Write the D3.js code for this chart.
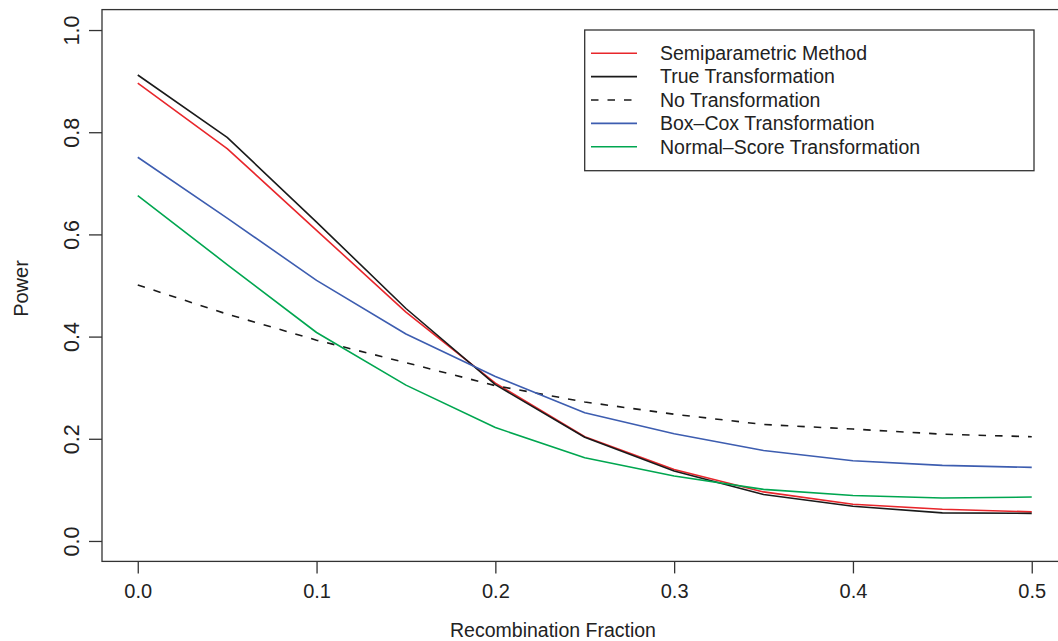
<!DOCTYPE html>
<html>
<head>
<meta charset="utf-8">
<script src="https://cdn.jsdelivr.net/npm/d3@7"></script>
<style>
  html, body { margin: 0; padding: 0; background: #fff; }
  svg { display: block; font-family: "Liberation Sans", Arial, Helvetica, sans-serif; }
</style>
</head>
<body>
<svg id="chart" width="1058" height="641"></svg>
<script>
// ---- data ----
const recomb = [0, 0.05, 0.1, 0.15, 0.2, 0.25, 0.3, 0.35, 0.4, 0.45, 0.5];
const semiparametric = [0.896, 0.768, 0.608, 0.448, 0.309, 0.204, 0.140, 0.096, 0.072, 0.062, 0.057];
const trueTransform  = [0.912, 0.790, 0.624, 0.455, 0.306, 0.203, 0.137, 0.091, 0.068, 0.055, 0.054];
const noTransform    = [0.501, 0.444, 0.393, 0.349, 0.304, 0.272, 0.248, 0.228, 0.219, 0.209, 0.204];
const boxCox         = [0.751, 0.632, 0.510, 0.405, 0.322, 0.251, 0.210, 0.177, 0.157, 0.148, 0.144];
const normalScore    = [0.676, 0.541, 0.408, 0.305, 0.222, 0.163, 0.127, 0.101, 0.089, 0.084, 0.086];
const seriesNames = ["Semiparametric Method", "True Transformation", "No Transformation",
                     "Box\u2013Cox Transformation", "Normal\u2013Score Transformation"];
const xTicks = [0, 0.1, 0.2, 0.3, 0.4, 0.5];
const yTicks = [0, 0.2, 0.4, 0.6, 0.8, 1.0];
const xTitle = "Recombination Fraction";
const yTitle = "Power";

(function () {
// ---- styles ----
const seriesStyle = [
  { color: "#e8262b", dash: null },
  { color: "#1a1a1a", dash: null },
  { color: "#1a1a1a", dash: "7.5,9" },
  { color: "#3d5db0", dash: null },
  { color: "#00a650", dash: null }
];
const seriesData = [semiparametric, trueTransform, noTransform, boxCox, normalScore];

const svg = d3.select("#chart");
const pL = 102, pR = 1067.5, pT = 9.6, pB = 561.4;
const fontSize = 19.5;
const tickFont = 21.5;
const textColor = "#222";

const x = d3.scaleLinear().domain([-0.02, 0.52]).range([pL, pR]);
const y = d3.scaleLinear().domain([-0.04, 1.04]).range([pB, pT]);

// lines
const line = d3.line().x((d, i) => x(recomb[i])).y(d => y(d));
seriesData.forEach((vals, k) => {
  svg.append("path")
    .datum(vals)
    .attr("d", line)
    .attr("fill", "none")
    .attr("stroke", seriesStyle[k].color)
    .attr("stroke-width", 1.6)
    .attr("stroke-dasharray", seriesStyle[k].dash)
    .attr("stroke-linejoin", "round");
});

// plot box
svg.append("rect")
  .attr("x", pL).attr("y", pT)
  .attr("width", pR - pL).attr("height", pB - pT)
  .attr("fill", "none").attr("stroke", "#333").attr("stroke-width", 1.3);

// x axis
const xAxis = svg.append("g")
  .attr("transform", `translate(0,${pB})`)
  .call(d3.axisBottom(x).tickValues(xTicks).tickSize(12).tickPadding(10)
        .tickFormat(d3.format(".1f")));
xAxis.select(".domain").remove();
xAxis.selectAll(".tick line").attr("stroke", "#333").attr("stroke-width", 1.3);
xAxis.selectAll(".tick text")
  .attr("font-size", 20).attr("fill", textColor)
  .attr("font-family", "Liberation Sans, Arial, sans-serif")
  .attr("y", 0).attr("dy", 0)
  .attr("transform", "translate(0,37)");

// y axis
const yAxis = svg.append("g")
  .attr("transform", `translate(${pL},0)`)
  .call(d3.axisLeft(y).tickValues(yTicks).tickSize(13).tickFormat(d3.format(".1f")));
yAxis.select(".domain").remove();
yAxis.selectAll(".tick line").attr("stroke", "#333").attr("stroke-width", 1.3);
yAxis.selectAll(".tick text")
  .attr("font-size", tickFont).attr("fill", textColor)
  .attr("font-family", "Liberation Sans, Arial, sans-serif")
  .attr("x", 0).attr("y", 0).attr("dy", 0)
  .attr("text-anchor", "middle")
  .attr("transform", "translate(-23,0) rotate(-90)");

// axis titles
svg.append("text")
  .attr("x", 553).attr("y", 637)
  .attr("text-anchor", "middle").attr("font-size", fontSize).attr("fill", textColor)
  .text(xTitle);
svg.append("text")
  .attr("transform", `translate(28,${(pT + pB) / 2 + 3}) rotate(-90)`)
  .attr("text-anchor", "middle").attr("font-size", 20).attr("fill", textColor)
  .text(yTitle);

// legend
const lg = svg.append("g");
const lgX0 = 584.7, lgY0 = 30, lgX1 = 1034, lgY1 = 170.7;
lg.append("rect")
  .attr("x", lgX0).attr("y", lgY0).attr("width", lgX1 - lgX0).attr("height", lgY1 - lgY0)
  .attr("fill", "#fff").attr("stroke", "#333").attr("stroke-width", 1.3);
const rowY = d3.scalePoint().domain(d3.range(seriesNames.length)).range([53.3, 146.7]);
seriesNames.forEach((name, k) => {
  const yy = rowY(k);
  lg.append("line")
    .attr("x1", 591).attr("x2", 637).attr("y1", yy).attr("y2", yy)
    .attr("stroke", seriesStyle[k].color).attr("stroke-width", 1.6)
    .attr("stroke-dasharray", seriesStyle[k].dash);
  lg.append("text")
    .attr("x", 660).attr("y", yy).attr("dy", "0.35em")
    .attr("font-size", fontSize).attr("fill", textColor)
    .text(name);
});
})();
</script>
</body>
</html>
